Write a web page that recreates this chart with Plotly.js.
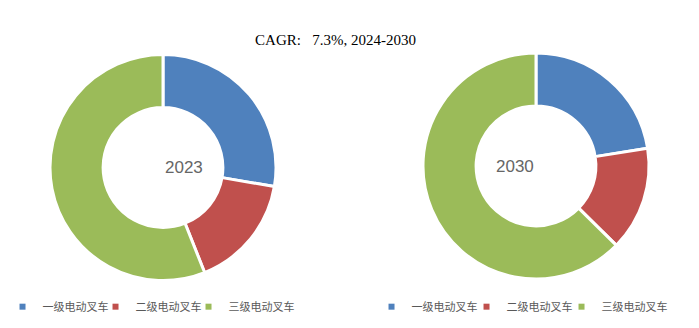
<!DOCTYPE html>
<html>
<head>
<meta charset="utf-8">
<script src="https://cdn.plot.ly/plotly-3.0.1.min.js"></script>
<style>html,body{margin:0;padding:0;background:#fff}#chart{width:699px;height:328px}</style>
</head>
<body>
<div id="chart"></div>
<script>
const categories = ["一级电动叉车", "二级电动叉车", "三级电动叉车"];
const share2023 = [27.7, 16.3, 56.0];
const share2030 = [22.5, 14.9, 62.6];
const years = ["2023", "2030"];
const titleText = "CAGR:&nbsp;&nbsp;&nbsp;7.3%, 2024-2030";
const colors = ["#4F81BD", "#C0504D", "#9BBB59"];

const W = 699, H = 328;
function dom(cx, cyTop, r) {
  const cy = H - cyTop;
  return { x: [(cx - r) / W, (cx + r) / W], y: [(cy - r) / H, (cy + r) / H] };
}
const domL = dom(163, 167.5, 113);
const domR = dom(536, 166, 113);

const pieBase = {
  type: "pie", hole: 0.53, sort: false, direction: "clockwise", rotation: 0,
  textinfo: "none", hoverinfo: "label+percent", showlegend: false,
  marker: { colors: colors, line: { color: "#ffffff", width: 3 } }
};
const traces = [
  Object.assign({}, pieBase, { labels: categories, values: share2023, domain: domL, name: years[0] }),
  Object.assign({}, pieBase, { labels: categories, values: share2030, domain: domR, name: years[1] })
];
["legend", "legend2"].forEach(lg => {
  categories.forEach((c, i) => {
    traces.push({
      type: "scatter", mode: "markers", x: [null], y: [null], name: c,
      legend: lg, showlegend: true, hoverinfo: "skip",
      marker: { symbol: "square", size: 6, color: colors[i] }
    });
  });
});

const legFont = { family: "Noto Sans CJK SC", size: 11, color: "#595959" };
const layout = {
  width: W, height: H,
  margin: { l: 0, r: 0, t: 0, b: 0 },
  paper_bgcolor: "#ffffff", plot_bgcolor: "#ffffff",
  title: { text: titleText, x: 0.48, xanchor: "center", y: 0.878, yanchor: "middle",
           font: { family: "Liberation Serif", size: 15, color: "#000000" } },
  xaxis: { visible: false, range: [0, 1] },
  yaxis: { visible: false, range: [0, 1] },
  legend: { orientation: "h", x: 0.0036, xanchor: "left", y: 0.065, yanchor: "middle",
            font: legFont, bgcolor: "rgba(0,0,0,0)", entrywidth: 48, itemwidth: 30 },
  legend2: { orientation: "h", x: 0.5315, xanchor: "left", y: 0.065, yanchor: "middle",
             font: legFont, bgcolor: "rgba(0,0,0,0)", entrywidth: 50, itemwidth: 30 },
  annotations: [
    { text: years[0], x: (domL.x[0] + domL.x[1]) / 2, y: (domL.y[0] + domL.y[1]) / 2,
      xref: "paper", yref: "paper", showarrow: false,
      font: { family: "Liberation Sans", size: 17, color: "#666666" } },
    { text: years[1], x: (domR.x[0] + domR.x[1]) / 2, y: (domR.y[0] + domR.y[1]) / 2,
      xref: "paper", yref: "paper", showarrow: false,
      font: { family: "Liberation Sans", size: 17, color: "#666666" } }
  ]
};
Plotly.newPlot("chart", traces, layout, { displayModeBar: false, staticPlot: true }).then(gd => {
  // let the last legend label overflow its fixed entry width instead of being clipped
  gd.querySelectorAll(".legend [clip-path], .legend2 [clip-path], g.infolayer g[class^='legend'] [clip-path]")
    .forEach(el => el.removeAttribute("clip-path"));
});
</script>
</body>
</html>
